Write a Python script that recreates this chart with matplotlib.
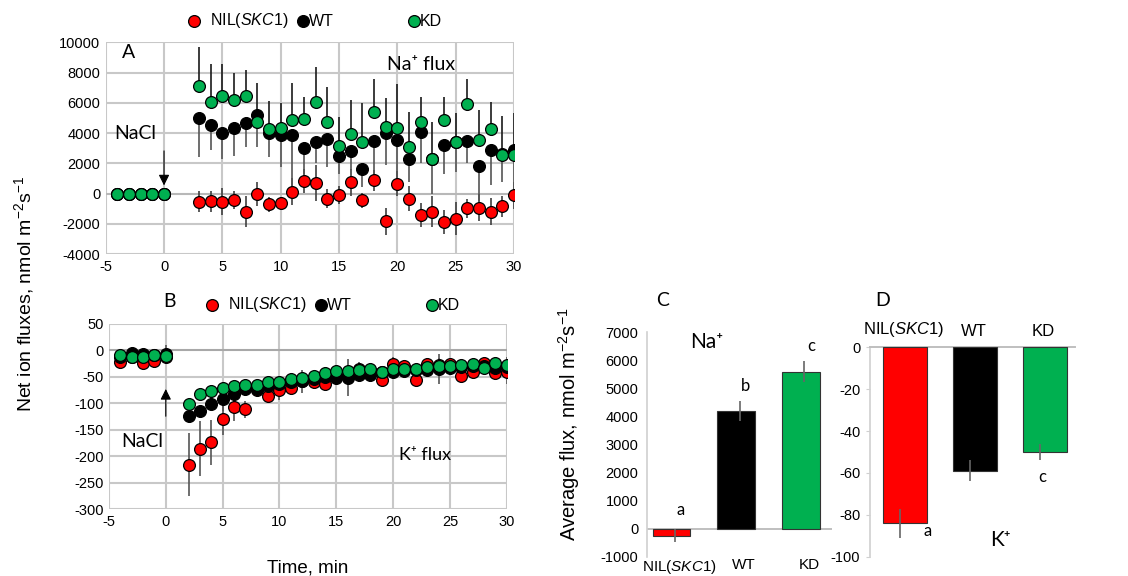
import matplotlib
matplotlib.use("Agg")
import matplotlib.pyplot as plt
import numpy as np
from matplotlib.lines import Line2D

plt.rcParams['font.family'] = ['Liberation Sans', 'DejaVu Sans']
plt.rcParams['mathtext.fontset'] = 'custom'
plt.rcParams['mathtext.rm'] = 'Liberation Sans'
plt.rcParams['mathtext.it'] = 'Liberation Sans:italic'
plt.rcParams['axes.unicode_minus'] = False

RED = '#ff0000'
BLACK = '#000000'
GREEN = '#00b050'

# ---------------- Panel A: Na+ flux ----------------
tA = [-4, -3, -2, -1, 0] + list(range(3, 31))
na_kd = [0, 0, 0, 0, 0,
         7100, 6070, 6470, 6180, 6470, 4700, 4240, 4300, 4860, 4920, 6030, 4700,
         3160, 3930, 3380, 5360, 4390, 4350, 3090, 4750, 2250, 4830, 3380, 5890,
         3530, 4260, 2560, 2520]
na_kd_up = [0, 0, 0, 0, 0,
            2610, 2470, 2100, 1810, 1700, 2580, 1900, 1700, 2420, 1480, 2360, 2320,
            1920, 2250, 2620, 2190, 1900, 2890, 2320, 1650, 2450, 1570, 1960, 1700,
            1990, 1810, 2560, 2780]
na_wt = [0, 0, 0, 0, 0,
         4990, 4530, 4000, 4300, 4660, 5190, 4020, 3860, 3860, 2980, 3380, 3580,
         2450, 2800, 1630, 3490, 4000, 3530, 2300, 4080, 2300, 3220, 3380, 3490,
         1830, 2870, 2600, 2850]
na_wt_dn = [0, 0, 0, 0, 0,
            2560, 1660, 1750, 1830, 1570, 2100, 1590, 2090, 3420, 1660, 1390, 1800,
            1130, 1250, 1190, 2390, 2120, 2650, 1530, 2090, 2300, 1900, 1950, 1500,
            2300, 2320, 1830, 3290]
na_nil = [0, 0, 0, 0, 0,
          -530, -510, -550, -440, -1190, -40, -710, -620, 110, 820, 710, -330,
          -110, 750, -440, 880, -1850, 660, -330, -1410, -1190, -1880, -1660, -990,
          -930, -1190, -840, -110]
na_nil_err = [0, 0, 0, 0, 0,
              700, 700, 900, 600, 1000, 800, 500, 400, 900, 800, 1200, 600,
              600, 900, 500, 700, 900, 800, 800, 800, 1000, 800, 1100, 600,
              900, 900, 700, 900]

# ---------------- Panel B: K+ flux ----------------
tB = [-4, -3, -2, -1, 0] + list(range(2, 31))
k_kd = [-10, -13, -13, -9, -11,
        -101, -83, -78, -71, -67, -65, -66, -61, -61, -55, -52, -49, -44, -39, -40,
        -38, -36, -42, -36, -35, -35, -32, -29, -30, -28, -26, -33, -25, -28]
k_kd_err = [5, 5, 5, 5, 5,
            8, 6, 6, 6, 6, 6, 6, 8, 8, 8, 8, 8, 8, 8, 8,
            8, 8, 8, 8, 8, 8, 8, 8, 8, 8, 8, 8, 8, 8]
k_wt = [-12, -6, -8, -10, -8,
        -125, -115, -101, -92, -83, -74, -73, -68, -64, -60, -59, -55, -50, -52, -52,
        -46, -47, -42, -41, -39, -38, -37, -35, -33, -32, -29, -29, -33, -32]
k_wt_err = [8, 8, 8, 8, 18,
            10, 10, 10, 22, 12, 12, 12, 12, 12, 12, 22, 12, 12, 12, 35,
            14, 14, 12, 14, 12, 12, 12, 28, 12, 12, 12, 12, 14, 20]
k_nil = [-22, -13, -25, -21, -12,
         -216, -186, -174, -130, -108, -112, -75, -86, -76, -71, -58, -61, -64, -50, -47,
         -35, -41, -56, -26, -30, -56, -26, -28, -27, -49, -41, -24, -44, -41]
k_nil_err = [13, 8, 13, 12, 10,
             60, 52, 42, 30, 26, 16, 12, 12, 18, 14, 12, 12, 12, 12, 12,
             12, 16, 12, 14, 12, 10, 12, 14, 10, 10, 12, 10, 12, 22]

# ---------------- Panels C and D: averages ----------------
genotypes = ['NIL(SKC1)', 'WT', 'KD']
avg_na = [-250, 4200, 5600]
avg_na_err = [230, 350, 370]
na_letters = ['a', 'b', 'c']
avg_k = [-84, -59, -50]
avg_k_err = [7, 5, 4]
k_letters = ['a', '', 'c']

fig = plt.figure(figsize=(11.28, 5.76), dpi=100)

GRID = '#c8c8c8'
CAL = ['Lato', 'DejaVu Sans']


def style_scatter_axes(ax, xt, yt, zero_col):
    ax.set_xticks(xt)
    ax.set_yticks(yt)
    for s in ['top', 'right', 'left', 'bottom']:
        ax.spines[s].set_visible(False)
    ax.tick_params(length=0, labelsize=10.5, pad=4)
    for v in xt:
        ax.axvline(v, color=GRID, lw=1.5, zorder=1)
    for v in yt:
        ax.axhline(v, color=(zero_col if v == 0 else GRID), lw=1.5, zorder=1)


mk = dict(marker='o', ms=8.5, mec='black', mew=0.9, ls='none', zorder=5)

# Panel A
axA = fig.add_axes([0.0937, 0.559, 0.362, 0.3676])
axA.set_xlim(-5, 30)
axA.set_ylim(-4000, 10000)
style_scatter_axes(axA, list(range(-5, 31, 5)), list(range(-4000, 10001, 2000)), '#b8b8b8')
axA.errorbar(tA, na_nil, yerr=na_nil_err, fmt='none', ecolor='#404040', elinewidth=1.2, zorder=3)
axA.errorbar(tA, na_wt, yerr=[na_wt_dn, [0] * len(na_wt)], fmt='none', ecolor='#555555', elinewidth=1.2, zorder=3)
axA.errorbar(tA, na_kd, yerr=[[0] * len(na_kd), na_kd_up], fmt='none', ecolor='#1a1a1a', elinewidth=1.2, zorder=3)
axA.plot(tA, na_nil, mfc=RED, **mk)
axA.plot(tA, na_wt, mfc=BLACK, **mk)
axA.plot(tA, na_kd, mfc=GREEN, **mk)
axA.annotate('', xy=(0, 350), xytext=(0, 3000),
             arrowprops=dict(arrowstyle='-|>', color='black', lw=0.8, mutation_scale=16), zorder=6)
axA.text(-4.3, 4000, 'NaCl', fontsize=14, family=CAL, va='center')
axA.text(-3.6, 9300, 'A', fontsize=14, family=CAL, va='center')
axA.text(22.0, 8500, 'Na⁺ flux', fontsize=14, family=CAL, va='center', ha='center')

# Panel B
axB = fig.add_axes([0.0966, 0.1163, 0.3526, 0.3217])
axB.set_xlim(-5, 30)
axB.set_ylim(-300, 50)
style_scatter_axes(axB, list(range(-5, 31, 5)), list(range(-300, 51, 50)), '#a8a8a8')
axB.errorbar(tB, k_nil, yerr=k_nil_err, fmt='none', ecolor='#555555', elinewidth=1.2, zorder=3)
axB.errorbar(tB, k_wt, yerr=k_wt_err, fmt='none', ecolor='#555555', elinewidth=1.2, zorder=3)
axB.errorbar(tB, k_kd, yerr=k_kd_err, fmt='none', ecolor='#555555', elinewidth=1.2, zorder=3)
axB.plot(tB, k_nil, mfc=RED, **mk)
axB.plot(tB, k_wt, mfc=BLACK, **mk)
axB.plot(tB, k_kd, mfc=GREEN, **mk)
axB.annotate('', xy=(0, -68), xytext=(0, -130),
             arrowprops=dict(arrowstyle='-|>', color='black', lw=0.8, mutation_scale=16), zorder=6)
axB.text(-3.9, -173, 'NaCl', fontsize=14, family=CAL, va='center')
axB.text(22.8, -198, 'K⁺ flux', fontsize=13, family=CAL, va='center', ha='center')
axB.set_xlabel('Time, min', fontsize=13.5, labelpad=22)

fig.text(0.15, 0.477, 'B', fontsize=14, family=CAL, ha='center', va='center')

# shared y label for A and B
fig.text(0.021, 0.49, 'Net ion fluxes, nmol m$^{-2}$s$^{-1}$', rotation=90,
         fontsize=14, ha='center', va='center')


# legends (drawn in figure coordinates)
def legend_row(yfig, red_x):
    xs = [red_x, red_x + 109 / 1128, red_x + 220 / 1128]
    cols = [RED, BLACK, GREEN]
    labels = ['NIL($\\it{SKC1}$)', 'WT', 'KD']
    offs = [16 / 1128, 6 / 1128, 6 / 1128]
    for x, c, lab, o in zip(xs, cols, labels, offs):
        fig.add_artist(Line2D([x], [yfig], marker='o', ms=8.5, mfc=c, mec='black', mew=0.9,
                              transform=fig.transFigure))
        fig.text(x + o, yfig, lab, fontsize=11.5, va='center', ha='left')


legend_row(1 - 21 / 576, 194 / 1128)
legend_row(1 - 305 / 576, 212 / 1128)

# Panel C
axC = fig.add_axes([0.5733, 0.0335, 0.164, 0.3896])
xc = np.arange(len(genotypes))
axC.bar(xc, avg_na, width=0.58, color=[RED, BLACK, GREEN], edgecolor='#333333', lw=0.8, zorder=3)
axC.errorbar(xc + 0.05, avg_na, yerr=avg_na_err, fmt='none', ecolor='#666666', elinewidth=1.2, zorder=4)
axC.set_xlim(-0.38, 2.47)
axC.set_ylim(-1000, 7000)
axC.set_yticks(range(-1000, 7001, 1000))
axC.axhline(0, color='#bfbfbf', lw=1.4, zorder=2)
for s in ['top', 'right', 'bottom']:
    axC.spines[s].set_visible(False)
axC.spines['left'].set_color('#d0d0d0')
axC.spines['left'].set_linewidth(1.2)
axC.set_xticks(xc + 0.12)
axC.set_xticklabels(['NIL($\\it{SKC1}$)', 'WT', 'KD'])
axC.tick_params(length=0, labelsize=10.5, pad=6)
axC.tick_params(axis='x', labelsize=11, pad=1)
for x, v, e, l in zip(xc, avg_na, avg_na_err, na_letters):
    ytxt = max(v, 0) + e + 550 if v > 0 else 650
    axC.text(x + 0.15, ytxt, l, fontsize=12, family=CAL, ha='center', va='center')
axC.text(0.55, 6650, 'Na⁺', fontsize=15, family=CAL, ha='center', va='center')
axC.set_ylabel('Average flux, nmol m$^{-2}$s$^{-1}$', fontsize=14.5)
axC.yaxis.set_label_coords(-0.35, 0.59)
fig.text(663 / 1128, 1 - 300 / 576, 'C', fontsize=14, family=CAL, ha='center', va='center')

# Panel D
axD = fig.add_axes([0.7713, 0.0335, 0.1817, 0.3635])
xd = np.arange(len(genotypes))
axD.bar(xd, avg_k, width=0.63, color=[RED, BLACK, GREEN], edgecolor='#333333', lw=0.8, zorder=3)
axD.errorbar(xd - 0.07, avg_k, yerr=avg_k_err, fmt='none', ecolor='#666666', elinewidth=1.2, zorder=4)
axD.set_xlim(-0.5, 2.43)
axD.set_ylim(-100, 0)
axD.set_yticks(range(-100, 1, 20))
for s in ['right', 'bottom']:
    axD.spines[s].set_visible(False)
axD.spines['left'].set_color('#d0d0d0')
axD.spines['left'].set_linewidth(1.2)
axD.spines['top'].set_color('#bfbfbf')
axD.spines['top'].set_linewidth(1.4)
axD.xaxis.tick_top()
axD.set_xticks(xd - 0.02)
axD.set_xticklabels(['NIL$\\it{(SKC1)}$', 'WT', 'KD'], fontsize=12)
axD.tick_params(axis='x', length=0, pad=6)
axD.tick_params(axis='y', length=3, color='#d0d0d0', labelsize=10.5, pad=4)
axD.text(0.33, -87.6, k_letters[0], fontsize=12, family=CAL, ha='center', va='center')
axD.text(1.96, -62, k_letters[2], fontsize=12, family=CAL, ha='center', va='center')
axD.text(1.36, -92, 'K⁺', fontsize=15, family=CAL, ha='center', va='center')
fig.text(883 / 1128, 1 - 300 / 576, 'D', fontsize=14, family=CAL, ha='center', va='center')

fig.savefig('out.png', dpi=100)
